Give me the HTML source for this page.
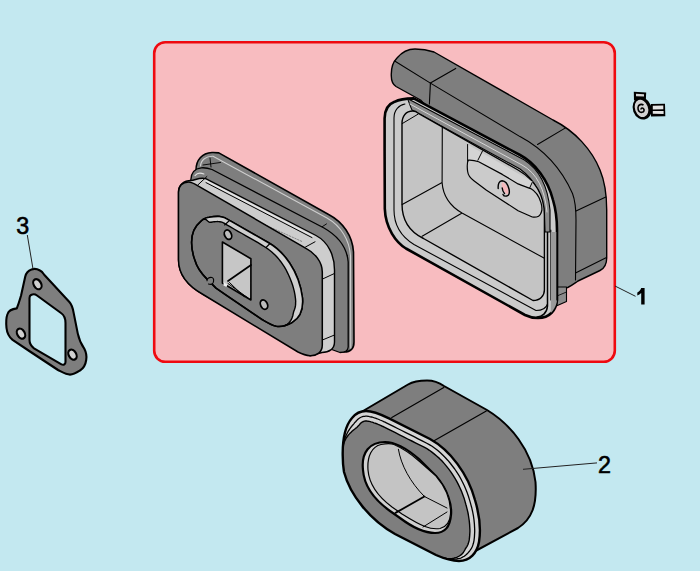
<!DOCTYPE html>
<html><head><meta charset="utf-8">
<style>
html,body{margin:0;padding:0;width:700px;height:571px;overflow:hidden;background:#c3e8f0;}
svg{position:absolute;left:0;top:0;}
text{font-family:"Liberation Sans",sans-serif;}
</style></head><body>
<svg width="700" height="571" viewBox="0 0 700 571">
<rect x="0" y="0" width="700" height="571" fill="#c3e8f0"/>
<rect x="154.2" y="42.2" width="460.6" height="319.6" rx="11" ry="11" fill="#f8bcc0" stroke="#ee0a10" stroke-width="2.6"/>


<!-- ICON -->
<g id="icon">
<path d="M 651,104 L 665,103.8 L 665.3,116.3 L 651,116.5 Z" fill="#000"/>
<path d="M 652.8,105.8 L 663.3,105.6 L 663.3,109.2 L 652.8,109.4 Z M 652.8,110.9 L 663.6,111.1 L 663.6,113.9 L 652.8,113.7 Z" fill="#e4e4e4"/>
<path d="M 633.8,91.8 L 646.2,92.4 L 645.8,100.5 L 634,100.5 Z" fill="#000"/>
<path d="M 636,93.8 L 644,94.2 L 644,96.6 L 636,96.3 Z" fill="#d6d6d6"/>
<ellipse cx="642.1" cy="108.5" rx="9.3" ry="11.2" transform="rotate(-20 642.1 108.5)" fill="#000"/>
<ellipse cx="641.5" cy="108.4" rx="6.5" ry="8.9" transform="rotate(-20 641.5 108.4)" fill="#d2d2d2"/>
<path d="M 643.5,105.2 C 641.5,103.6 638.3,104.5 638,107.5 C 637.8,110.5 639.5,112.6 642,112.3 C 644.2,112 644.8,109.6 643.2,108.3 C 642,107.5 640.8,108.5 641.2,109.6" fill="none" stroke="#000" stroke-width="1.6"/>
</g>
<!-- PART 3 -->
<g id="p3" stroke-linejoin="round" stroke-linecap="round">
<path fill-rule="evenodd" d="M 31.5,269.5 C 34,268.5 37,268.8 40,270.5 C 42,271.5 43,273 44.2,274.7 L 69.4,302 C 72,305 73,309 73.6,312.6 L 77.8,333.6 C 79,339 81,344 84.1,348.3 C 86,352 87,356 86.2,360 C 85.5,365 84,368 80,370.5 C 77,372.5 74,374.6 70,374.6 C 66,374.6 62,372 58,370 L 31.5,352.5 L 12.6,339.9 C 9,337 7,333 6.5,328 C 6,323 6,318 7.5,314 C 8.5,311 12,309 16.8,308.4 C 19,303 20,299 21,295.7 L 25.2,276.8 C 26,273 28.5,270.5 31.5,269.5 Z
M 31,295 C 33,294 35,294 37,295.5 L 61,313 C 64,315 65.5,319 65.5,323 L 65.5,362 C 65.5,364.5 63.5,365.5 61,364.1 L 34,348.3 C 31,346 29.5,343 29.5,340 L 29.5,298 C 29.5,296.5 30,295.5 31,295 Z" fill="#7e7e7e" stroke="#000" stroke-width="2.1"/>
<ellipse cx="37.4" cy="284.2" rx="3.7" ry="5.4" transform="rotate(-30 37.4 284.2)" fill="#d0d0d0" stroke="#000" stroke-width="2.2"/>
<ellipse cx="21" cy="333.6" rx="3.7" ry="5.4" transform="rotate(-30 21 333.6)" fill="#d0d0d0" stroke="#000" stroke-width="2.2"/>
<ellipse cx="72.5" cy="354.6" rx="3.7" ry="5.4" transform="rotate(-30 72.5 354.6)" fill="#d0d0d0" stroke="#000" stroke-width="2.2"/>
</g>
<!-- PART 1A -->
<g id="p1a" stroke-linejoin="round" stroke-linecap="round">
<!-- back rim -->
<path d="M 196,170 C 196,160 202,153 212,152.5 C 214.5,152.4 216.5,152.6 218.8,152.9 L 328.6,214.5 C 343,222 352.5,236 353.5,252 L 354,342 C 354,349 350,352 344,352 L 250,320 L 196,190 Z" fill="#7e7e7e" stroke="#000" stroke-width="1.6"/>
<path d="M 200.5,166 C 201,160 206,156 213,156.2 L 327,218 C 341,226 349.5,240 350.5,256 L 350.8,348" fill="none" stroke="#cfcfcf" stroke-width="1.1"/>
<path d="M 210,158 L 211,167 M 203,165 L 220.5,162.5 M 326.5,223.9 L 317,230.2 M 333.9,260.7 L 347.5,255.4" fill="none" stroke="#000" stroke-width="0.9"/>
<!-- flange 1 -->
<path d="M 190.8,180 C 191,173 195,168.5 201.3,167.8 C 205,167.5 208,168 212,169.5 L 324,228 C 338,236 347,248 348.2,262 L 348.2,347 C 348,351 345,352.5 340,352.5 L 250,320 L 190.8,200 Z" fill="#7e7e7e" stroke="#000" stroke-width="1.3"/>
<path d="M 195,175.6 C 197,173 200,172.5 203.9,174" fill="none" stroke="#e0e0e0" stroke-width="1.1"/>
<!-- plate thickness band -->
<path d="M 178.5,260 L 178.5,192 C 178.5,185 184,180.5 191,180.5 C 195,180.5 199,177 205.7,178.6 L 316,235.5 C 328,242 334.5,255 334.5,270 L 334.5,342 C 334.5,349 329,352.5 322,352.5 L 309.9,355.7 L 203.1,294.5 C 188,286 178.5,275 178.5,260 Z" fill="#cdcdcd" stroke="#000" stroke-width="1.4"/>
<path d="M 206,180.9 L 313,236.2" fill="none" stroke="#e6e6e6" stroke-width="1.2"/>
<path d="M 206,182.6 L 312,237.6" fill="none" stroke="#000" stroke-width="1"/>
<path d="M 305.5,247 L 315,241.8 M 322.6,279 L 334.2,273.6 M 322.4,340 L 334.5,335 M 197.5,185.3 L 206.9,176.5" fill="none" stroke="#000" stroke-width="1"/>
<path d="M 262,223.5 L 302,241.5" fill="none" stroke="#666" stroke-width="0.7" stroke-dasharray="1.5,1.5"/>
<!-- plate front face -->
<path d="M 178.5,260 L 178.5,192.3 C 178.5,186 182.5,182 188.5,182 C 191.5,182 194,183.5 197.1,185.4 L 305.5,248.1 C 315,253 322.3,262 322.3,272 L 322.3,344.9 C 322.3,352 317,356 309.9,355.7 C 306,355.5 302,354 298,352 L 203.1,294.5 C 188,286 178.5,275 178.5,260 Z" fill="#7e7e7e" stroke="#000" stroke-width="1.5"/>
<!-- boss -->
<path d="M 195,260.5 C 192.5,254 191.5,248 191.6,242 C 191.7,234 194,227 200,222.1 C 203,219 206,217.6 209.1,217.3 C 213,216.5 216,216.2 219.4,216.4 C 223,216.8 226,218 228.6,219.9 L 268.6,242.7 C 283,251 299,270 302.5,298 C 303.5,310 300,318 292,322.5 C 286,326 281,327 276.3,326.3 C 272,325.5 268,323 262,319.5 L 225.2,294.5 L 216,288.1 L 206.8,278.9 C 201,273 196.5,266 195,260.5 Z" fill="#7e7e7e" stroke="#000" stroke-width="1.5"/>
<polygon points="203.0,219.2 204.1,218.6 205.1,218.2 206.1,217.9 207.0,217.6 208.1,217.4 209.1,217.3 210.2,217.1 211.3,216.9 212.4,216.7 213.4,216.6 214.4,216.5 215.4,216.4 216.4,216.4 217.4,216.3 218.4,216.4 219.4,216.4 220.5,216.5 221.5,216.7 222.5,217.0 223.4,217.3 224.4,217.6 225.3,218.0 226.1,218.4 227.0,218.8 227.8,219.4 228.6,219.9 232.6,222.2 236.6,224.5 240.6,226.7 244.6,229.0 248.6,231.3 252.6,233.6 256.6,235.9 260.6,238.1 264.6,240.4 268.6,242.7 270.8,244.0 273.0,245.5 275.1,247.2 277.3,249.0 279.5,250.9 281.6,253.0 283.7,255.3 285.7,257.7 287.7,260.3 289.6,263.0 291.5,265.8 293.2,268.8 294.8,272.0 296.4,275.3 297.8,278.7 299.0,282.3 300.1,286.0 301.1,289.9 301.9,293.9 302.5,298.0 302.6,299.8 302.7,301.5 302.6,303.1 302.6,304.7 302.4,306.3 302.2,307.7 301.9,309.2 301.5,310.5 301.1,311.8 300.6,313.1 300.1,314.3 299.4,315.4 298.7,316.5 298.0,317.5 297.2,318.5 296.3,319.4 295.3,320.2 294.3,321.0 293.2,321.8 292.0,322.5 290.9,323.1 289.7,323.7 288.6,324.2 287.4,324.7 286.2,325.2 285.0,325.5 284.1,325.8 284.1,325.8 285.0,325.5 286.1,325.0 287.2,324.3 288.2,323.4 289.2,322.5 290.0,321.5 290.8,320.4 291.5,319.2 292.0,318.0 292.4,316.8 292.8,315.7 293.0,314.7 293.2,313.7 293.4,312.8 293.6,311.9 293.9,311.1 294.2,310.3 294.5,309.5 294.8,308.5 295.1,307.6 295.3,306.5 295.5,305.4 295.6,304.2 295.6,302.9 295.7,301.5 295.6,300.1 295.5,298.8 295.0,295.1 294.3,291.4 293.4,287.9 292.4,284.5 291.2,281.2 289.9,278.1 288.6,275.0 287.2,272.1 285.8,269.3 284.2,266.6 282.5,264.1 280.8,261.7 279.0,259.4 277.2,257.3 275.3,255.3 273.4,253.4 271.5,251.7 269.6,250.2 267.7,248.8 265.8,247.5 261.9,245.1 258.0,242.7 254.0,240.4 250.0,238.1 246.0,235.8 242.0,233.5 238.0,231.3 234.0,229.0 230.0,226.7 225.9,224.4 225.0,223.7 224.4,223.3 223.8,223.0 223.1,222.7 222.5,222.4 221.8,222.2 221.1,222.0 220.4,221.8 219.6,221.7 218.9,221.6 218.2,221.6 217.4,221.5 216.6,221.6 215.7,221.6 214.9,221.7 214.0,221.7 213.1,221.9 212.2,222.0 211.2,222.2 209.8,222.3 208.7,221.8 207.7,221.0 206.8,220.2 205.6,219.4 204.3,219.0 203.0,219.2" fill="#cfcfcf"/>
<polyline points="203.0,219.2 204.3,219.0 205.6,219.4 206.8,220.2 207.7,221.0 208.7,221.8 209.8,222.3 211.2,222.2 212.2,222.0 213.1,221.9 214.0,221.7 214.9,221.7 215.7,221.6 216.6,221.6 217.4,221.5 218.2,221.6 218.9,221.6 219.6,221.7 220.4,221.8 221.1,222.0 221.8,222.2 222.5,222.4 223.1,222.7 223.8,223.0 224.4,223.3 225.0,223.7 225.9,224.4 230.0,226.7 234.0,229.0 238.0,231.3 242.0,233.5 246.0,235.8 250.0,238.1 254.0,240.4 258.0,242.7 261.9,245.1 265.8,247.5 267.7,248.8 269.6,250.2 271.5,251.7 273.4,253.4 275.3,255.3 277.2,257.3 279.0,259.4 280.8,261.7 282.5,264.1 284.2,266.6 285.8,269.3 287.2,272.1 288.6,275.0 289.9,278.1 291.2,281.2 292.4,284.5 293.4,287.9 294.3,291.4 295.0,295.1 295.5,298.8 295.6,300.1 295.7,301.5 295.6,302.9 295.6,304.2 295.5,305.4 295.3,306.5 295.1,307.6 294.8,308.5 294.5,309.5 294.2,310.3 293.9,311.1 293.6,311.9 293.4,312.8 293.2,313.7 293.0,314.7 292.8,315.7 292.4,316.8 292.0,318.0 291.5,319.2 290.8,320.4 290.0,321.5 289.2,322.5 288.2,323.4 287.2,324.3 286.1,325.0 285.0,325.5 284.1,325.8" fill="none" stroke="#000" stroke-width="1.4"/>
<path d="M 195,260.5 C 192.5,254 191.5,248 191.6,242 C 191.7,234 194,227 200,222.1 C 203,219 206,217.6 209.1,217.3 C 213,216.5 216,216.2 219.4,216.4 C 223,216.8 226,218 228.6,219.9 L 268.6,242.7 C 283,251 299,270 302.5,298 C 303.5,310 300,318 292,322.5 C 286,326 281,327 276.3,326.3 C 272,325.5 268,323 262,319.5 L 225.2,294.5 L 216,288.1 L 206.8,278.9 C 201,273 196.5,266 195,260.5 Z" fill="none" stroke="#000" stroke-width="1.6"/>
<path d="M 224.6,225 L 229.5,220.5 M 266,247.5 L 270,243.5" fill="none" stroke="#000" stroke-width="1.1"/>
<path d="M 207,280.7 C 207,278 209.5,277 212,277.5 C 214,278 214,281 213,283 C 212,284.5 210,284.5 208.5,284" fill="#7e7e7e" stroke="#000" stroke-width="1.1"/>
<!-- square hole -->
<path d="M 222.4,242 L 250.9,258.7 L 250.9,300 L 222.4,283 Z" fill="#c6c6c6" stroke="#000" stroke-width="1.6"/>
<path d="M 228,281 L 251,265" fill="none" stroke="#000" stroke-width="1.7"/>
<path d="M 229.5,282.5 L 244,296.5 M 228,283.5 L 248,298" fill="none" stroke="#000" stroke-width="1"/>
<path d="M 223.5,282 L 227.5,284.5 L 226.5,287 L 223.5,285.5 Z" fill="#f0f0f0" stroke="none"/>
<!-- small holes -->
<ellipse cx="228" cy="234.7" rx="3.4" ry="4.9" transform="rotate(-25 228 234.7)" fill="#bdbdbd" stroke="#000" stroke-width="1.8"/>
<ellipse cx="264" cy="304.6" rx="3.4" ry="4.9" transform="rotate(-25 264 304.6)" fill="#bdbdbd" stroke="#000" stroke-width="1.8"/>
</g>
<!-- PART 1B -->
<g id="p1b" stroke-linejoin="round" stroke-linecap="round">
<path d="M 391.3,76 C 391,69 393,62 397,58 C 402,52 408,49 415,49 C 422,49 428,50 434,52 L 553,120 C 575,131 592,150 600,170 C 605,182 606.7,195 606.7,210 L 606.7,258 C 606.7,264 605,268 600,270.5 L 578,281 C 575,283 572,285.5 567.7,287.5 L 557,290 L 557,240 L 530,175 L 428,108 L 420.5,100 L 396,86.5 C 393,84.5 391.3,80 391.3,76 Z" fill="#7e7e7e" stroke="#000" stroke-width="1.4"/>
<path d="M 394.7,61 L 430.4,83.1 L 455.7,68.4 M 430.4,83.1 L 429.4,104" fill="none" stroke="#000" stroke-width="1.1"/>
<path d="M 430.4,83.1 L 520,136.6 C 545,150 562,170 572.5,193.5 C 575,200 576,210 576,220 L 575.5,280" fill="none" stroke="#000" stroke-width="1.1"/>
<path d="M 537.5,144.5 L 565.5,127.9 M 576,211 L 605.8,197 M 575.5,273 L 606.5,257.5" fill="none" stroke="#000" stroke-width="1.1"/>
<!-- tab -->
<path d="M 555,287 L 566.5,287 L 566.5,301.6 L 554,307 Z" fill="#8c8c8c" stroke="#000" stroke-width="1.1"/>
<path d="M 557,288 L 557,304.5 M 557,296 L 566.5,292" fill="none" stroke="#000" stroke-width="0.8"/>
<!-- rim -->
<path d="M 384.6,150 L 384.6,118.4 C 384.8,110 388.5,104 394.5,101.8 C 399,99.5 405,98.5 413.7,98.4 L 520,155 C 535,163 548,180 553,200 C 556,210 557,220 557,230 L 557,300 C 556,310 550,318 538,318 C 533,318 529,317 525,315 L 406,248.5 C 396,242.5 385.5,228 384.8,208.8 Z" fill="#cbcbcb" stroke="#000" stroke-width="2.6"/>
<path d="M 550.8,230 L 550.8,300 M 547.5,304 C 546,309 541,310.5 536,310.5 L 414,244.5 C 401,236.5 394,226 394,210 L 394,118 C 394,110 399,105 405,104" fill="none" stroke="#000" stroke-width="1.1"/>
<path d="M 550.8,232 L 557,232 L 557,300 C 556.5,306 553,311 550.8,313 Z" fill="#9a9a9a" stroke="none"/>
<path d="M 557,232 L 557,300" fill="none" stroke="#000" stroke-width="1.4"/>
<path d="M 547.5,232 L 547.5,306 C 547,313 542,317 537,317" fill="none" stroke="#000" stroke-width="1.5"/>
<!-- top band -->
<path d="M 407.4,98.4 L 524.4,160 C 540,170 548,188 550,210 L 550,232 L 545,232 L 544.4,215 C 543,195 535,180 520,169 L 412,110 C 410,106 409,102 407.4,98.4 Z" fill="#8c8c8c" stroke="#000" stroke-width="1.1"/>
<path d="M 410,104 L 522,165 C 537,173 545,190 547,212" fill="none" stroke="#e0e0e0" stroke-width="0.9"/>
<!-- cavity -->
<path d="M 402,204 L 402,123.6 C 402,116 406,111 412.7,111 C 415,111 417,112 418,113.1 L 518,170 C 535,180 544.4,195 544.4,215 L 544.4,290 C 544.4,296 540,300.5 533,300.5 L 423.5,238.5 C 410,232 402,220 402,204 Z" fill="#c4c4c4" stroke="#000" stroke-width="1.4"/>
<path d="M 402.2,123.6 L 418,114.2" fill="none" stroke="#000" stroke-width="1"/>
<path d="M 402.2,204.6 L 442.1,182.6 M 442.3,126.4 L 442.1,182.6 C 443,195 450,206 462,213 L 544.4,258.3 M 422.1,236.2 L 462.1,213.1" fill="none" stroke="#000" stroke-width="1.1"/>
<!-- slot -->
<path d="M 467.6,144.5 L 467.6,163 L 530,190 L 533,182 Z" fill="#d4d4d4" stroke="none"/>
<path d="M 467.6,144.5 L 467.6,163 M 482.6,150.8 L 477.9,160.2 M 532.3,182.3 L 529,189.4" fill="none" stroke="#000" stroke-width="1"/>
<path d="M 468.4,160.2 C 472,160 475,160.5 478.7,161.8 L 502.3,174.4 L 518.1,183.9 C 523,186 527,187 530.7,188.6 C 535,191 539,196 541,202.8 C 542,206 542,209 541.8,210.7 C 541,214 540,215.5 538.6,216.2 C 536,217.5 534,217.3 532.3,217 L 518.1,210.7 L 486.5,190.2 L 473.9,180.7 C 470,178 468,175 467.6,171.3 C 467,166 467,162 468.4,160.2 Z" fill="#cbcbcb" stroke="#000" stroke-width="1.2"/>
<path d="M 502,182.2 C 505,182.5 507.5,186.5 508.3,190 C 508.8,193 508.3,194.8 507,194.3 C 505,192.5 503,190.5 502.2,188 C 501.5,186 501.3,183 502,182.2 Z" fill="#f4b8bc"/>
<path d="M 498.2,188.5 C 497.8,184 499.2,180.8 502,180.8 C 505.5,181 508,185 509,189 C 509.8,192.5 509.3,195.5 506.8,196 C 505,196.4 503.5,195.6 503,194.4 M 502.2,188 C 502.5,190.5 503.5,192.5 504.5,193.5" fill="none" stroke="#000" stroke-width="1.4"/>
</g>
<!-- PART 2 -->
<defs>
<clipPath id="ff2"><path d="M 342.7,455 C 342.5,438 346,425 352,418 C 356,413 361,411 366,411 C 372,411 380,414 389,418.3 L 430,439 C 450,450 468,474 475,500 C 479.5,515 481,530 479,542 C 477,553 470,561 459,561 C 452,561 445,559 436,555 L 395,534 C 370,520 350,495 344,472 C 343,466 342.7,460 342.7,455 Z"/></clipPath>
</defs>
<g id="p2" stroke-linejoin="round" stroke-linecap="round">
<path d="M 363,411 L 408,384.5 C 413,381.5 420,380.5 427,380.5 C 434,380.5 439,382.5 444,386 L 487,410 C 510,424 532,450 535.5,482 C 537,505 532,519 518,528 L 468,555 L 440,500 Z" fill="#7e7e7e" stroke="#000" stroke-width="2"/>
<path d="M 391.8,417.6 L 443.8,387.6 M 433.6,441 L 486.3,410.9" stroke="#000" stroke-width="1.2" fill="none"/>
<path d="M 342.7,455 C 342.5,438 346,425 352,418 C 356,413 361,411 366,411 C 372,411 380,414 389,418.3 L 430,439 C 450,450 468,474 475,500 C 479.5,515 481,530 479,542 C 477,553 470,561 459,561 C 452,561 445,559 436,555 L 395,534 C 370,520 350,495 344,472 C 343,466 342.7,460 342.7,455 Z" fill="#7e7e7e"/>
<g clip-path="url(#ff2)">
<polygon points="343.2,447.0 343.3,444.5 343.4,442.2 343.5,440.0 343.8,437.9 344.0,436.0 344.3,434.2 344.6,432.5 345.0,430.9 345.4,429.4 345.8,428.0 346.3,426.7 346.8,425.5 347.4,424.3 348.0,423.3 348.6,422.2 349.2,421.3 349.9,420.4 350.5,419.6 351.3,418.8 352.0,418.0 352.6,417.3 353.2,416.6 354.1,415.7 355.4,414.6 356.8,413.7 358.2,412.9 359.6,412.2 361.0,411.7 362.5,411.3 364.0,411.1 365.5,411.0 366.6,411.0 367.5,411.1 368.5,411.2 369.5,411.3 370.5,411.5 371.6,411.7 372.6,411.9 373.7,412.2 374.8,412.6 376.0,412.9 377.2,413.3 378.3,413.7 379.6,414.2 380.8,414.7 382.0,415.2 383.3,415.7 384.6,416.3 385.9,416.9 387.2,417.5 388.6,418.1 391.7,419.7 395.8,421.8 399.9,423.8 404.0,425.9 408.1,428.0 412.2,430.0 416.3,432.1 420.4,434.2 424.5,436.2 428.6,438.3 432.0,440.1 435.0,442.0 437.9,444.1 440.7,446.3 443.6,448.7 446.3,451.2 449.0,453.9 451.6,456.8 454.1,459.7 456.6,462.8 458.9,466.0 461.2,469.3 463.3,472.7 465.3,476.3 467.2,479.8 469.0,483.5 470.6,487.2 472.1,491.0 473.5,494.8 474.6,498.7 475.4,501.5 476.1,503.7 476.6,506.0 477.2,508.2 477.7,510.5 478.1,512.7 478.5,514.9 478.8,517.1 479.1,519.3 479.4,521.4 479.6,523.5 479.7,525.7 479.8,527.7 479.9,529.8 479.9,531.8 479.8,533.8 479.7,535.8 479.6,537.7 479.4,539.6 479.1,541.4 478.8,543.1 478.4,544.7 477.9,546.2 477.4,547.7 476.8,549.1 476.1,550.5 475.4,551.8 474.6,553.0 473.7,554.2 472.7,555.3 471.7,556.3 470.6,557.2 469.4,558.0 468.2,558.8 466.9,559.4 465.6,559.9 464.2,560.4 462.7,560.7 461.1,560.9 459.5,561.0 458.0,561.0 456.5,560.9 455.0,560.8 453.5,560.6 451.9,560.3 450.3,559.9 448.7,559.5 447.0,559.0 445.6,558.5 444.8,558.2 443.9,557.9 443.0,557.5 443.0,557.5 443.9,557.8 444.8,558.1 445.7,558.3 447.2,558.6 448.9,558.7 450.6,558.7 452.3,558.5 453.8,558.2 455.3,557.8 456.7,557.3 458.1,556.7 459.4,556.0 460.6,555.2 461.6,554.4 462.4,553.6 463.1,552.8 463.6,552.0 464.1,551.2 464.5,550.5 464.9,549.8 465.2,549.1 465.6,548.5 466.0,547.9 466.4,547.2 466.9,546.6 467.3,545.8 467.7,545.0 468.1,544.1 468.4,543.1 468.7,542.1 469.0,541.0 469.2,539.9 469.4,538.3 469.6,536.7 469.7,535.1 469.8,533.4 469.9,531.7 469.9,529.9 469.8,528.1 469.7,526.2 469.6,524.4 469.4,522.4 469.2,520.5 468.9,518.5 468.6,516.5 468.3,514.5 467.9,512.5 467.4,510.4 466.9,508.4 466.4,506.3 465.8,504.3 465.0,501.4 464.0,497.9 462.7,494.5 461.4,491.1 459.9,487.7 458.3,484.4 456.6,481.1 454.7,477.9 452.8,474.8 450.8,471.8 448.6,468.9 446.4,466.1 444.1,463.4 441.8,460.8 439.4,458.4 436.9,456.2 434.4,454.1 431.9,452.1 429.4,450.3 426.9,448.7 424.1,447.2 420.0,445.2 415.9,443.1 411.8,441.0 407.7,439.0 403.6,436.9 399.5,434.8 395.4,432.7 391.3,430.7 387.2,428.6 384.3,427.1 383.0,426.5 381.8,426.0 380.5,425.4 379.4,424.9 378.2,424.4 377.1,423.9 376.0,423.5 374.9,423.1 373.9,422.8 372.9,422.4 372.0,422.1 371.1,421.9 370.2,421.6 369.4,421.4 368.6,421.3 368.0,421.2 367.3,421.1 366.8,421.0 366.3,421.0 365.8,421.0 365.1,421.0 364.5,421.1 363.9,421.3 363.3,421.5 362.7,421.8 362.1,422.1 361.5,422.5 360.9,423.0 360.5,423.5 360.1,423.8 359.4,424.7 358.6,425.6 358.1,426.1 357.7,426.6 357.3,427.0 356.8,427.5 356.2,427.9 355.5,428.5 354.8,429.0 353.9,429.7 353.0,430.4 352.0,431.3 350.9,432.4 349.7,433.6 348.5,434.9 347.3,436.5 346.1,438.2 345.1,440.1 344.1,442.2 343.5,444.5 343.2,447.0" fill="#d4d4d4"/>
<polyline points="343.2,447.0 343.5,444.5 344.1,442.2 345.1,440.1 346.1,438.2 347.3,436.5 348.5,434.9 349.7,433.6 350.9,432.4 352.0,431.3 353.0,430.4 353.9,429.7 354.8,429.0 355.5,428.5 356.2,427.9 356.8,427.5 357.3,427.0 357.7,426.6 358.1,426.1 358.6,425.6 359.4,424.7 360.1,423.8 360.5,423.5 360.9,423.0 361.5,422.5 362.1,422.1 362.7,421.8 363.3,421.5 363.9,421.3 364.5,421.1 365.1,421.0 365.8,421.0 366.3,421.0 366.8,421.0 367.3,421.1 368.0,421.2 368.6,421.3 369.4,421.4 370.2,421.6 371.1,421.9 372.0,422.1 372.9,422.4 373.9,422.8 374.9,423.1 376.0,423.5 377.1,423.9 378.2,424.4 379.4,424.9 380.5,425.4 381.8,426.0 383.0,426.5 384.3,427.1 387.2,428.6 391.3,430.7 395.4,432.7 399.5,434.8 403.6,436.9 407.7,439.0 411.8,441.0 415.9,443.1 420.0,445.2 424.1,447.2 426.9,448.7 429.4,450.3 431.9,452.1 434.4,454.1 436.9,456.2 439.4,458.4 441.8,460.8 444.1,463.4 446.4,466.1 448.6,468.9 450.8,471.8 452.8,474.8 454.7,477.9 456.6,481.1 458.3,484.4 459.9,487.7 461.4,491.1 462.7,494.5 464.0,497.9 465.0,501.4 465.8,504.3 466.4,506.3 466.9,508.4 467.4,510.4 467.9,512.5 468.3,514.5 468.6,516.5 468.9,518.5 469.2,520.5 469.4,522.4 469.6,524.4 469.7,526.2 469.8,528.1 469.9,529.9 469.9,531.7 469.8,533.4 469.7,535.1 469.6,536.7 469.4,538.3 469.2,539.9 469.0,541.0 468.7,542.1 468.4,543.1 468.1,544.1 467.7,545.0 467.3,545.8 466.9,546.6 466.4,547.2 466.0,547.9 465.6,548.5 465.2,549.1 464.9,549.8 464.5,550.5 464.1,551.2 463.6,552.0 463.1,552.8 462.4,553.6 461.6,554.4 460.6,555.2 459.4,556.0 458.1,556.7 456.7,557.3 455.3,557.8 453.8,558.2 452.3,558.5 450.6,558.7 448.9,558.7 447.2,558.6 445.7,558.3 444.8,558.1 443.9,557.8 443.0,557.5" fill="none" stroke="#000" stroke-width="1.4"/>
<polyline points="343.2,447.0 343.4,444.5 343.8,442.2 344.3,440.1 345.0,438.1 345.7,436.2 346.5,434.6 347.3,433.0 348.0,431.7 348.8,430.4 349.5,429.3 350.3,428.2 350.9,427.3 351.6,426.5 352.2,425.7 352.8,425.0 353.4,424.3 354.0,423.6 354.5,422.9 355.1,422.3 355.9,421.5 356.5,420.7 357.0,420.2 357.6,419.5 358.6,418.7 359.6,418.0 360.5,417.5 361.5,417.0 362.5,416.7 363.5,416.4 364.6,416.3 365.6,416.2 366.4,416.2 367.1,416.2 367.9,416.3 368.7,416.4 369.5,416.6 370.4,416.8 371.4,417.0 372.3,417.2 373.3,417.5 374.4,417.9 375.5,418.2 376.6,418.6 377.7,419.0 378.9,419.5 380.0,420.0 381.3,420.5 382.5,421.0 383.7,421.6 385.0,422.2 386.3,422.8 389.4,424.3 393.5,426.4 397.6,428.5 401.7,430.5 405.8,432.6 409.9,434.7 414.0,436.7 418.1,438.8 422.2,440.9 426.3,443.0 429.3,444.6 432.1,446.3 434.8,448.2 437.5,450.3 440.1,452.6 442.7,455.0 445.2,457.5 447.7,460.2 450.1,463.0 452.4,466.0 454.7,469.0 456.8,472.2 458.9,475.4 460.8,478.8 462.6,482.2 464.3,485.7 465.8,489.2 467.2,492.8 468.5,496.5 469.6,500.1 470.4,502.9 471.0,505.1 471.6,507.2 472.1,509.4 472.6,511.5 473.0,513.6 473.4,515.7 473.7,517.8 474.0,519.9 474.2,521.9 474.4,524.0 474.5,526.0 474.6,527.9 474.7,529.9 474.7,531.8 474.6,533.6 474.5,535.4 474.4,537.2 474.2,538.9 474.0,540.6 473.7,542.0 473.4,543.3 473.0,544.6 472.6,545.8 472.1,547.0 471.5,548.1 470.9,549.1 470.3,550.0 469.7,550.9 469.0,551.7 468.3,552.6 467.6,553.3 466.9,554.1 466.1,554.8 465.2,555.5 464.3,556.2 463.2,556.8 462.1,557.4 460.9,558.0 459.5,558.4 458.1,558.7 456.6,559.0 455.2,559.2 453.6,559.3 452.1,559.4 450.5,559.3 448.8,559.1 447.1,558.8 445.7,558.4 444.8,558.2 443.9,557.9 443.0,557.5" fill="none" stroke="#000" stroke-width="1.3"/>
</g>
<path d="M 342.7,455 C 342.5,438 346,425 352,418 C 356,413 361,411 366,411 C 372,411 380,414 389,418.3 L 430,439 C 450,450 468,474 475,500 C 479.5,515 481,530 479,542 C 477,553 470,561 459,561 C 452,561 445,559 436,555 L 395,534 C 370,520 350,495 344,472 C 343,466 342.7,460 342.7,455 Z" fill="none" stroke="#000" stroke-width="2.4"/>
<path d="M 363,470 C 361,452 370,442 385,442 C 395,442 405,447 419,459 L 436,476 C 448,490 452,505 451,515 C 450,528 444,533 435,533 C 425,533 412,527 400,518 L 390,511 C 372,498 364,485 363,470 Z" fill="#d0d0d0" stroke="#000" stroke-width="2.2"/>
<path d="M 368,470 C 367,456 372,446.5 381,444.5 C 386,443.5 390,443 394,444.5 C 402,448 410,453 419,461 L 436,476 C 448,490 451,503 450.5,514 C 450,522 446,527 440,528.5 C 436,529 430,528.5 425,526.5 C 418,524 410,519 402,514 L 392,507 C 376,495 369,483 368,470 Z" fill="#c4c4c4" stroke="#000" stroke-width="1.2"/>
<path d="M 398.4,449.3 C 401,465 410,482 424.4,496.5" fill="none" stroke="#000" stroke-width="1"/>
<path d="M 424.4,496.5 L 395.5,512.9" fill="none" stroke="#000" stroke-width="1.8"/>
<path d="M 424.4,496.5 L 447,508 M 423,527 L 447,512" fill="none" stroke="#000" stroke-width="1"/>
</g>
<g stroke="#222" stroke-width="1" fill="none">
<line x1="615" y1="286" x2="635.5" y2="296.3"/>
<line x1="523" y1="469.3" x2="597" y2="462.9"/>
<line x1="27.3" y1="235" x2="33" y2="269"/>
</g>
<path d="M 641.2,288 L 644.6,288 L 644.6,304.6 L 641.2,304.6 L 641.2,293 C 640,294.2 638.8,295 637.3,295.6 L 637.3,292.6 C 639,291.8 640.5,290 641.2,288 Z" fill="#000"/>
<g font-size="23.3" fill="#000" stroke="#000" stroke-width="0.6">
<text x="598" y="472.6">2</text>
<text x="16.3" y="234.2">3</text>
</g>
</svg>
</body></html>
